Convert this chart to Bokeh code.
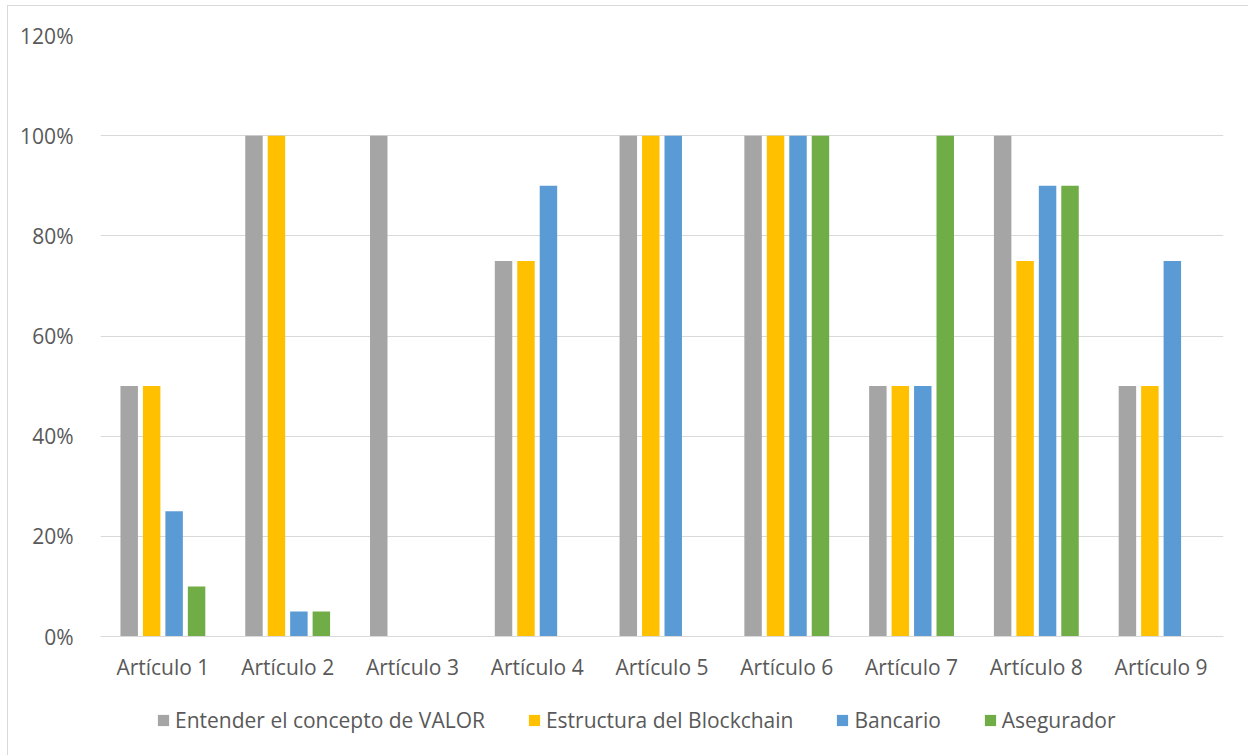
from bokeh.plotting import figure
from bokeh.layouts import column
from bokeh.models import ColumnDataSource, FactorRange, Range1d, NumeralTickFormatter, FixedTicker, Legend, LegendItem
from bokeh.transform import dodge
from bokeh.embed import file_html
from bokeh.resources import INLINE

categories = ["Artículo 1", "Artículo 2", "Artículo 3", "Artículo 4", "Artículo 5",
              "Artículo 6", "Artículo 7", "Artículo 8", "Artículo 9"]
series_names = ["Entender el concepto de VALOR", "Estructura del Blockchain", "Bancario", "Asegurador"]
valor = [0.50, 1.00, 1.00, 0.75, 1.00, 1.00, 0.50, 1.00, 0.50]
blockchain = [0.50, 1.00, 0.00, 0.75, 1.00, 1.00, 0.50, 0.75, 0.50]
bancario = [0.25, 0.05, 0.00, 0.90, 1.00, 1.00, 0.50, 0.90, 0.75]
asegurador = [0.10, 0.05, 0.00, 0.00, 0.00, 1.00, 1.00, 0.90, 0.00]
y_ticks = [0, 0.2, 0.4, 0.6, 0.8, 1.0, 1.2]

colors = ["#a5a5a5", "#ffc000", "#5b9bd5", "#70ad47"]
keys = ["valor", "blockchain", "bancario", "asegurador"]
offsets = [-0.27, -0.09, 0.09, 0.27]

source = ColumnDataSource(data=dict(cat=categories, valor=valor, blockchain=blockchain,
                                    bancario=bancario, asegurador=asegurador))

FONT = "Open Sans"
TXT = "#595959"
FS = "21px"

p = figure(x_range=FactorRange(*categories), y_range=Range1d(0, 1.2),
           width=1240, height=680, output_backend="svg", toolbar_location=None,
           min_border_left=92, min_border_right=25, min_border_top=29, min_border_bottom=50)
p.outline_line_color = None
p.background_fill_color = "white"
p.border_fill_color = "white"

for k, c, off in zip(keys, colors, offsets):
    p.vbar(x=dodge("cat", off, range=p.x_range), top=k, width=0.14, source=source,
           fill_color=c, line_color=None)

p.xgrid.grid_line_color = None
p.ygrid.grid_line_color = "#d9d9d9"
p.ygrid.grid_line_width = 1
p.yaxis.ticker = FixedTicker(ticks=y_ticks)
p.yaxis.formatter = NumeralTickFormatter(format="0%")
p.yaxis.axis_line_color = None
p.yaxis.major_tick_line_color = None
p.yaxis.minor_tick_line_color = None
p.yaxis.major_label_standoff = 21
p.yaxis.major_label_text_font = FONT
p.yaxis.major_label_text_font_size = FS
p.yaxis.major_label_text_color = TXT

p.xaxis.axis_line_color = "#d9d9d9"
p.xaxis.major_tick_line_color = None
p.xaxis.minor_tick_line_color = None
p.xaxis.major_label_standoff = 10
p.xaxis.major_label_text_font = FONT
p.xaxis.major_label_text_font_size = FS
p.xaxis.major_label_text_color = TXT

# legend strip below the chart (its frame is aligned with the chart's frame)
lg = figure(width=1240, height=69, output_backend="svg", toolbar_location=None,
            x_range=Range1d(0, 1), y_range=Range1d(0, 1),
            x_axis_type=None, y_axis_type=None,
            min_border_left=0, min_border_right=0, min_border_top=0, min_border_bottom=0)
lg.outline_line_color = None
lg.background_fill_color = "white"
lg.border_fill_color = "white"
proxies = [lg.vbar(x=[-5], top=[-5], bottom=[-6], width=0.1, fill_color=c, line_color=None)
           for c in colors]

legend = Legend(items=[LegendItem(label=n, renderers=[r]) for n, r in zip(series_names, proxies)],
                orientation="horizontal", location=(56, 21),
                padding=0, margin=0, spacing=42, glyph_width=14, glyph_height=14,
                label_standoff=5, label_text_font=FONT, label_text_font_size=FS,
                label_text_color=TXT, border_line_color=None, background_fill_alpha=0,
                label_height=20)
lg.add_layout(legend, "center")

layout = column(p, lg, spacing=0,
                styles={"margin-left": "7px", "margin-top": "5px",
                        "border-left": "1px solid #d9d9d9", "border-top": "1px solid #d9d9d9"})

open("out.html", "w").write(file_html(layout, INLINE))
